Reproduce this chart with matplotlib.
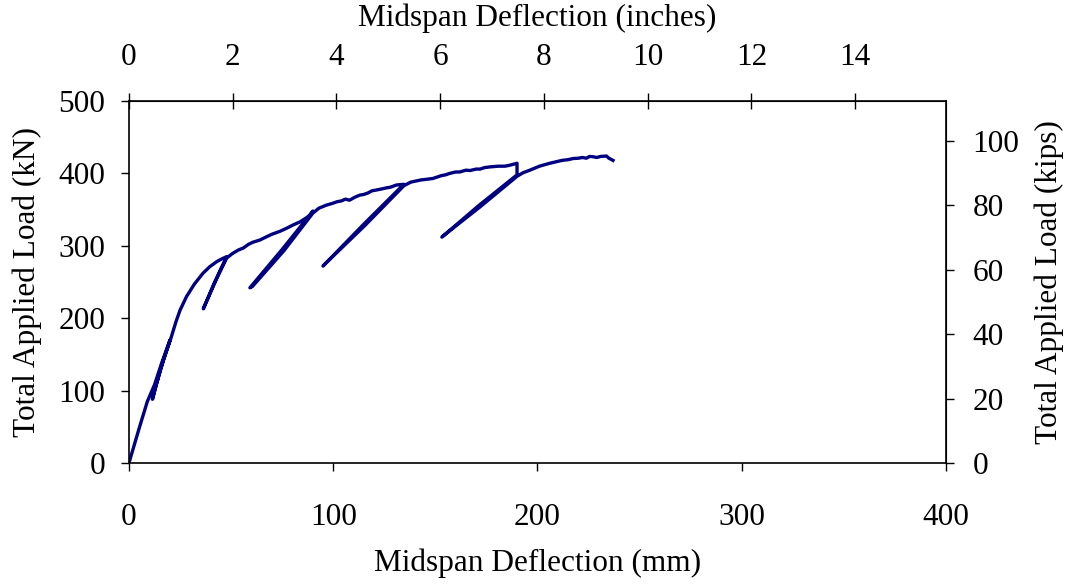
import matplotlib.pyplot as plt

plt.rcParams['font.family'] = ['Liberation Serif', 'DejaVu Serif']
plt.rcParams['font.size'] = 22.5

MM_PER_IN = 25.4
KN_PER_KIP = 4.448

# load-deflection record, with four unload/reload cycles
deflection_mm = [
    0, 5, 9, 12.5, 16, 20.1,
    15.5, 11.5,
    13, 17, 20.5, 23, 25, 28.2, 32, 36.2, 39.5, 42.9, 45.5, 47.8,
    42, 36.4,
    42.5, 47.8, 50.5, 53.4, 56, 58.5, 60.7, 64.1, 67, 70, 73.9, 77, 80.5,
    83.7, 86.5, 88.5, 90.1,
    75, 59.2,
    60.5, 75.8, 90, 93, 96.5, 100, 102, 104, 106, 108, 110.5, 113, 115, 117,
    119, 121, 124.5, 126, 128, 131, 134.6,
    115, 95,
    96, 115.5, 134.6, 138, 143, 146, 148.8, 153, 155, 157, 160, 162, 165, 167,
    170, 172, 174, 176.7, 181, 184, 186, 188, 190,
    190, 171, 153.2,
    154, 172, 190, 193, 196.3, 201, 206, 209, 212, 215, 217.5, 220, 222,
    224, 225.5, 227.3, 229, 231, 233.8, 235, 237,
]
load_kN = [
    0, 48, 85, 108, 138, 170,
    130, 88,
    105, 143, 172, 195, 211, 230, 247, 262, 271, 278, 282, 285,
    250, 213,
    252, 283, 289, 294, 297, 302, 305, 308, 312, 316, 320, 324, 329,
    333, 338, 342, 348,
    295, 242,
    244, 293, 345, 352, 356, 359, 361, 362, 364.5, 363, 367, 370, 371, 373,
    376, 377, 379, 380, 381, 384, 385,
    330, 272,
    275, 328, 383, 388, 391, 392, 393, 397, 398, 400, 402, 402, 404.5, 404,
    406, 406, 408, 409, 410, 410, 411, 412.5, 414,
    398, 355, 312,
    314, 354, 396, 401, 404.5, 410, 414, 416, 418, 419, 420.6, 421, 422,
    421, 423.5, 423, 422, 423.5, 424, 421, 418,
]

fig = plt.figure(figsize=(10.72, 5.86), dpi=100)
ax = fig.add_axes([0.1203, 0.2099, 0.7621, 0.6177])

ax.plot(deflection_mm, load_kN, color='#000080', linewidth=2.4,
        solid_joinstyle='round')

ax.set_xlim(0, 400)
ax.set_ylim(0, 500)
ax.set_xticks(range(0, 401, 100))
ax.set_yticks(range(0, 501, 100))
ax.tick_params(direction='out', length=6, width=1.0, colors='black')
ax.tick_params(axis='x', pad=23)
ax.tick_params(axis='y', pad=11)
for s in ax.spines.values():
    s.set_linewidth(1.2)

ax.set_xlabel('Midspan Deflection (mm)', va='center', ha='center')
ax.xaxis.set_label_coords(0.5, -0.276)
ax.set_ylabel('Total Applied Load (kN)', va='center', ha='center')
ax.yaxis.set_label_coords(-0.124, 0.5)

# imperial axes
top = ax.secondary_xaxis('top', functions=(lambda x: x / MM_PER_IN,
                                           lambda x: x * MM_PER_IN))
top.set_xticks(range(0, 15, 2))
top.tick_params(direction='inout', length=12, width=1.0, pad=15)
top.set_xlabel('Midspan Deflection (inches)', va='center', ha='center')
top.xaxis.set_label_coords(0.5, 1.229, transform=ax.transAxes)

right = ax.secondary_yaxis('right', functions=(lambda y: y / KN_PER_KIP,
                                               lambda y: y * KN_PER_KIP))
right.set_yticks(range(0, 101, 20))
right.tick_params(direction='out', length=6, width=1.0, pad=13)
right.set_ylabel('Total Applied Load (kips)', va='center', ha='center')
right.yaxis.set_label_coords(1.127, 0.5, transform=ax.transAxes)

fig.savefig('out.png', dpi=100)
